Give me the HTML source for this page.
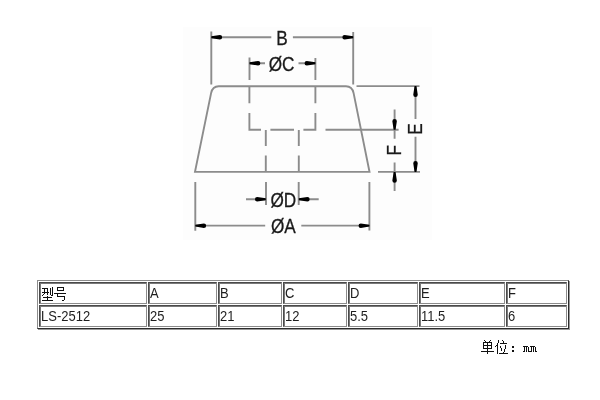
<!DOCTYPE html>
<html><head><meta charset="utf-8">
<style>
html,body{margin:0;padding:0;background:#fff;width:600px;height:400px;overflow:hidden;}
body{position:relative;font-family:"Liberation Sans",sans-serif;}
#w{position:absolute;left:0;top:0;width:600px;height:400px;filter:blur(0.45px) grayscale(1);}
#dg{position:absolute;left:0;top:0;width:600px;height:400px;}
.tb{position:absolute;left:37px;top:280px;width:530px;height:47px;border:1px solid;border-color:#8c8c8c #2c2c2c #2c2c2c #8c8c8c;box-shadow:1px 1px 0 #9a9a9a;}
.c{position:absolute;box-sizing:border-box;height:22px;border:1px solid;border-color:#4a4a4a #8c8c8c #8c8c8c #4a4a4a;box-shadow:inset 1px 1px 0 #7a7a7a;font-size:13px;color:#1e1e1e;padding-left:1px;line-height:21px;white-space:nowrap;}
.t{display:inline-block;transform:scaleY(1.075);transform-origin:0 14.8px;}

</style></head><body><div id="w">
<svg id="dg" width="600" height="400" viewBox="0 0 600 400">
<rect x="183" y="27" width="249" height="213" fill="#fdfdfd"/>
<g stroke="#8c8c8c" stroke-width="1.9" fill="none">
<path d="M211.3 31.5V84.5M353.2 32V84.5M211.3 37.3H271.3M292.9 37.3H353.2"/>
<path d="M249.5 57.5V80M315.4 58V80M249.5 63.2H265M298.5 63.2H315.4"/>
<path d="M195 171.9H369.5L353.6 93.1Q352.2 86.2 346 86.2H218.7Q212.5 86.2 211.1 93.1Z"/>
<path d="M249.4 86V103.2M249.4 113V129.7H261M270.4 129.7H294M303.4 129.7H315.4V113M315.4 103.2V86"/>
<path d="M265.8 130V146M265.8 155.5V171.7M298.8 130V146M298.8 155.5V171.7"/>
<path d="M266 182V205M298.7 182V205M246 199.3H265.8M298.8 199.3H318.7"/>
<path d="M195.3 182V230.7M369.4 182V230.5M195.3 225.65H265.2M301.3 225.65H369.4"/>
<path d="M356.5 86.1H419.5M378 171.9H420M325.5 129.8H398.6"/>
<path d="M415.5 86V119M415.5 136.75V172M394.6 109.6V138.8M394.6 162.5V191"/>
</g>
<g fill="#000"><path d="M211.3 36.35L219.9 35.05A2.25 2.25 0 0 1 219.9 39.55L211.3 38.25ZM353.2 36.35L344.6 35.05A2.25 2.25 0 0 0 344.6 39.55L353.2 38.25ZM249.5 62.25L258.1 60.95A2.25 2.25 0 0 1 258.1 65.45L249.5 64.15ZM315.4 62.25L306.8 60.95A2.25 2.25 0 0 0 306.8 65.45L315.4 64.15ZM195.3 224.7L203.9 223.4A2.25 2.25 0 0 1 203.9 227.9L195.3 226.6ZM369.4 224.7L360.8 223.4A2.25 2.25 0 0 0 360.8 227.9L369.4 226.6ZM265.8 198.35L257.2 197.05A2.25 2.25 0 0 0 257.2 201.55L265.8 200.25ZM298.8 198.35L307.4 197.05A2.25 2.25 0 0 1 307.4 201.55L298.8 200.25ZM414.55 86.1L413.25 94.7A2.25 2.25 0 0 0 417.75 94.7L416.45 86.1ZM414.55 171.9L413.25 163.3A2.25 2.25 0 0 1 417.75 163.3L416.45 171.9ZM393.65 129.8L392.35 121.2A2.25 2.25 0 0 1 396.85 121.2L395.55 129.8ZM393.65 171.9L392.35 180.5A2.25 2.25 0 0 0 396.85 180.5L395.55 171.9Z"/></g>
<g font-family="Liberation Sans" font-size="20" fill="#1a1a1a" stroke="#1a1a1a" stroke-width="0.3" text-anchor="middle">
<text transform="translate(282 44.5) scale(0.86 1)">B</text>
<text transform="translate(281.6 70.8) scale(0.86 1)">ØC</text>
<text transform="translate(283.3 206.5) scale(0.86 1)">ØD</text>
<text transform="translate(283.3 232.5) scale(0.86 1)">ØA</text>
<text transform="translate(421.6 129.1) rotate(-90) scale(0.86 1)">E</text>
<text transform="translate(401.2 150.3) rotate(-90) scale(0.86 1)">F</text>
</g>
</svg>
<div class="tb"></div>
<div class="c" style="left:39px;top:282px;width:108px;"><span class="t"></span></div>
<div class="c" style="left:148px;top:282px;width:69px;"><span class="t">A</span></div>
<div class="c" style="left:218px;top:282px;width:64px;"><span class="t">B</span></div>
<div class="c" style="left:283px;top:282px;width:64px;"><span class="t">C</span></div>
<div class="c" style="left:348px;top:282px;width:70px;"><span class="t">D</span></div>
<div class="c" style="left:419px;top:282px;width:86px;"><span class="t">E</span></div>
<div class="c" style="left:506px;top:282px;width:61px;"><span class="t">F</span></div>
<div class="c" style="left:39px;top:305px;width:108px;"><span class="t">LS-2512</span></div>
<div class="c" style="left:148px;top:305px;width:69px;"><span class="t">25</span></div>
<div class="c" style="left:218px;top:305px;width:64px;"><span class="t">21</span></div>
<div class="c" style="left:283px;top:305px;width:64px;"><span class="t">12</span></div>
<div class="c" style="left:348px;top:305px;width:70px;"><span class="t">5.5</span></div>
<div class="c" style="left:419px;top:305px;width:86px;"><span class="t">11.5</span></div>
<div class="c" style="left:506px;top:305px;width:61px;"><span class="t">6</span></div>
<svg style="position:absolute;left:0;top:0" width="600" height="400" viewBox="0 0 600 400"><path fill="#111" d="M42 288h6v1h-6zM42 292h7v1h-7zM43 297h9v1h-9zM42 300h11v1h-11zM43 294h1v1h-1zM42 295h1v1h-1zM51 295h1v1h-1zM57 287h7v1h-7zM57 290h7v1h-7zM54 293h12v1h-12zM57 296h8v1h-8zM63 300h1v1h-1zM62 300h1v1h-1zM484 340h1v1h-1zM485 341h1v1h-1zM490 340h1v1h-1zM489 341h1v1h-1zM483 342h9v1h-9zM483 345h9v1h-9zM483 348h9v1h-9zM481 351h13v1h-13zM496 345h1v1h-1zM495 346h1v1h-1zM502 340h1v1h-1zM500 343h7v1h-7zM499 353h9v1h-9zM503 352h1v1h-1zM512 346h2v1h-2zM512 347h2v1h-2zM512 350h2v1h-2zM512 351h2v1h-2zM523 346h5v1h-5zM530 346h5v1h-5zM523 351h2v1h-2zM526 351h1v1h-1zM528 351h4v1h-4zM533 351h1v1h-1zM535 351h2v1h-2zM44 288h1v6h-1zM47 289h1v6h-1zM50 288h1v7h-1zM52 287h1v9h-1zM47 296h1v5h-1zM57 287h1v4h-1zM63 287h1v4h-1zM57 294h1v2h-1zM64 296h1v4h-1zM483 342h1v7h-1zM491 342h1v7h-1zM487 342h1v12h-1zM498 340h1v3h-1zM497 343h1v11h-1zM503 341h1v2h-1zM500 346h1v2h-1zM501 348h1v3h-1zM505 345h1v4h-1zM504 349h1v3h-1zM524 347h1v4h-1zM526 347h1v4h-1zM528 347h1v4h-1zM531 347h1v4h-1zM533 347h1v4h-1zM535 347h1v4h-1z"/></svg>
</div></body></html>
